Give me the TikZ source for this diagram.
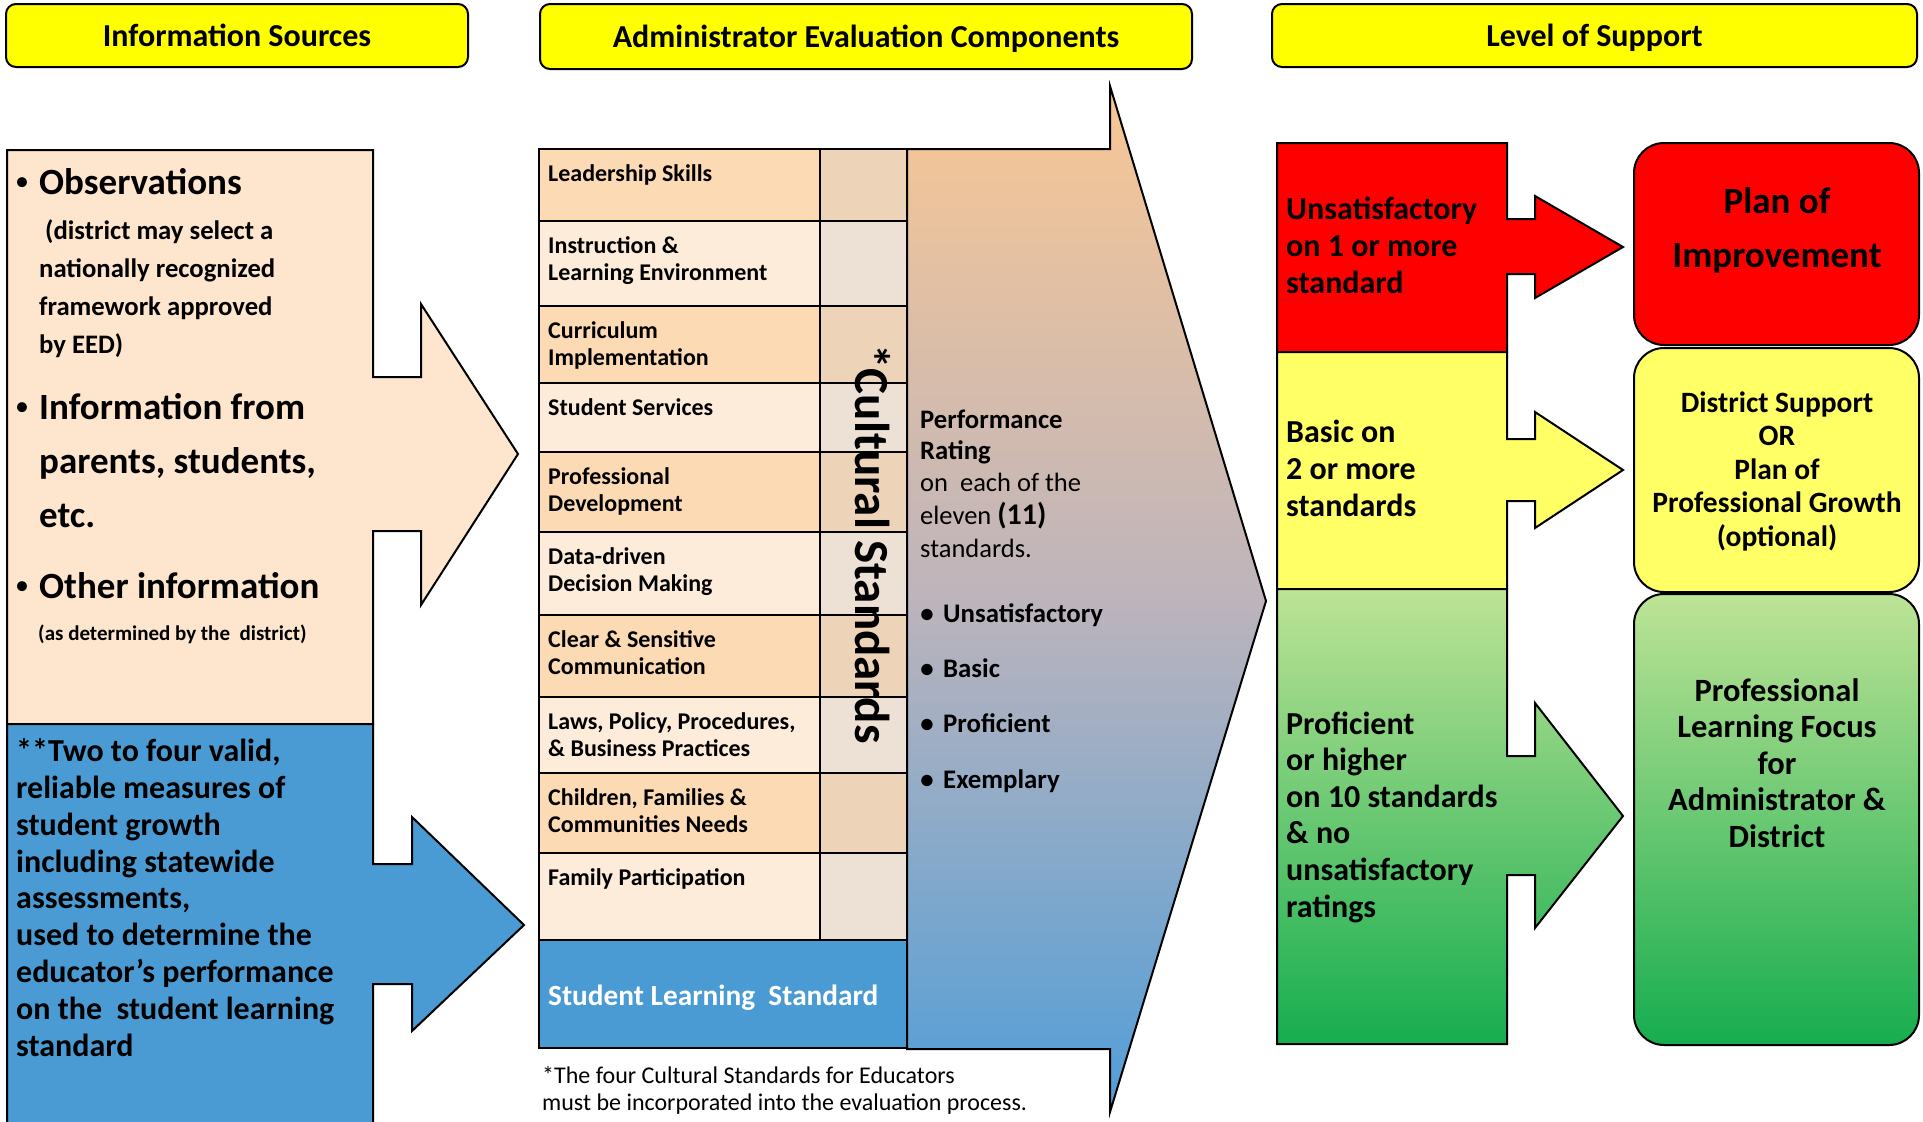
\documentclass[tikz,border=0pt]{standalone}
\usepackage{fontspec}
\setmainfont{Carlito}
\definecolor{hdryellow}{HTML}{FFFF00}
\definecolor{srcpeach}{HTML}{FDE6CD}
\definecolor{srcblue}{HTML}{4A9BD3}
\definecolor{rowdark}{HTML}{FCDAB4}
\definecolor{rowlight}{HTML}{FDECDA}
\definecolor{culdark}{HTML}{EDD4B9}
\definecolor{cullight}{HTML}{EDE1D5}
\definecolor{arrtop}{HTML}{F9C794}
\definecolor{arrmid}{HTML}{BDB4BC}
\definecolor{arrbot}{HTML}{509ED8}
\definecolor{lvlred}{HTML}{FF0000}
\definecolor{lvlyellow}{HTML}{FFFF66}
\definecolor{grntop}{HTML}{BEE396}
\definecolor{grnbot}{HTML}{16AD4F}
\newcommand\fsz[2]{\fontsize{#1}{#2}\selectfont}
\tikzset{
  hdrbox/.style={draw, line width=2pt, fill=hdryellow, rounded corners=10pt,
    font=\bfseries\fsz{32}{38}, text height=24pt, text depth=2pt},
  edge/.style={draw, line width=2pt},
  tbl/.style={draw, line width=2.5pt},
  srctext/.style={anchor=base west, inner sep=0pt, align=left},
  rowtext/.style={anchor=base west, inner sep=0pt, align=left, font=\bfseries\fsz{24}{27}},
  lvltext/.style={anchor=base west, inner sep=0pt, align=left, font=\bfseries\fsz{32}{36.6}},
  suptext/.style={anchor=base, inner sep=0pt, align=center},
  dot/.style={anchor=base, inner sep=0pt}
}
\begin{document}
\begin{tikzpicture}[x=1pt,y=-1pt]
  \useasboundingbox (0,0) rectangle (1923,1122);
  \clip (0,0) rectangle (1923,1122);

  % column headers
  \node[hdrbox, minimum width=462pt, minimum height=63pt] (hsrc) at (237,35.5) {Information Sources};
  \node[hdrbox, minimum width=652pt, minimum height=65pt] (hcomp) at (866,36.5) {Administrator Evaluation Components};
  \node[hdrbox, minimum width=645pt, minimum height=63pt] (hlvl) at (1594.5,35.5) {Level of Support};

  % information sources (multi-line texts sit on their last baseline)
  \draw[edge, fill=srcpeach] (7,150) -- (373,150) -- (373,377) -- (421,377) -- (421,304)
    -- (518,454) -- (421,605) -- (421,531) -- (373,531) -- (373,724) -- (7,724) -- cycle;
  \draw[edge, fill=srcblue] (7,724) -- (373,724) -- (373,864) -- (412,864) -- (412,817)
    -- (524,925) -- (412,1031) -- (412,984) -- (373,984) -- (373,1140) -- (7,1140) -- cycle;

  \node[dot, font=\fsz{28}{30}] (b1) at (22,190) {\textbullet};
  \node[srctext, font=\bfseries\fsz{37}{54}] (obs) at (39,194) {Observations};
  \node[srctext, font=\bfseries\fsz{26.7}{37.7}] (obsnote) at (39,353)
    {\hspace{6pt}(district may select a\\nationally recognized\\framework approved\\by EED)};
  \node[dot, font=\fsz{28}{30}] (b2) at (22,415) {\textbullet};
  \node[srctext, font=\bfseries\fsz{37}{54}] (par) at (39,527) {Information from\\parents, students,\\etc.};
  \node[dot, font=\fsz{28}{30}] (b3) at (22,594) {\textbullet};
  \node[srctext, font=\bfseries\fsz{37}{54}] (oth) at (39,598) {Other information};
  \node[srctext, font=\bfseries\fsz{21}{24}] (othnote) at (38,640) {(as determined by the\ \ district)};
  \node[srctext, font=\bfseries\fsz{32}{36.8}] (growth) at (16,1056)
    {**Two to four valid,\\reliable measures of\\student growth\\including statewide\\assessments,\\used to determine the\\educator’s performance\\on the\ \ student learning\\standard};

  % evaluation components
  \shade[edge, top color=arrtop, bottom color=arrbot, middle color=arrmid]
    (907,149) -- (1110,149) -- (1110,86) -- (1266,601) -- (1110,1112) -- (1110,1049) -- (907,1049) -- cycle;
  \foreach \ya/\yb/\rf/\cf/\nl/\txt [count=\i] in {
      149/221/rowdark/culdark/0/{Leadership Skills},
      221/306/rowlight/cullight/1/{Instruction \&\\Learning Environment},
      306/383/rowdark/culdark/1/{Curriculum\\Implementation},
      383/452/rowlight/cullight/0/{Student Services},
      452/532/rowdark/culdark/1/{Professional\\Development},
      532/615/rowlight/cullight/1/{Data-driven\\Decision Making},
      615/697/rowdark/culdark/1/{Clear \& Sensitive\\Communication},
      697/773/rowlight/cullight/1/{Laws, Policy, Procedures,\\\& Business Practices},
      773/853/rowdark/culdark/1/{Children, Families \&\\Communities Needs},
      853/940/rowlight/cullight/0/{Family Participation}}
  {
    \draw[tbl, fill=\rf] (539,\ya) rectangle (820,\yb);
    \draw[tbl, fill=\cf] (820,\ya) rectangle (907,\yb);
    \node[rowtext] (std\i) at (548,\ya+32+27*\nl) {\txt};
  }
  \draw[tbl, fill=srcblue] (539,940) rectangle (907,1048);
  \node[srctext, text=white, font=\bfseries\fsz{29.3}{30}] (sls) at (548,1005) {Student Learning\ \ Standard};
  \node[rotate=-90, anchor=base, inner sep=0pt, font=\bfseries\fsz{49}{50}] (cult) at (855,544) {*Cultural Standards};

  \node[srctext, font=\bfseries\fsz{26.7}{31}] (perf) at (920,459) {Performance\\Rating};
  \node[srctext, font=\fsz{26.5}{33}] (each) at (920,557) {on\ \ each of the\\eleven {\bfseries\fsz{30}{33}(11)}\\standards.};
  \foreach \y/\r [count=\i] in {622/Unsatisfactory,677/Basic,732/Proficient,788/Exemplary}
  {
    \node[dot, font=\bfseries\fsz{26.8}{30}] (rb\i) at (927,\y) {\textbullet};
    \node[srctext, font=\bfseries\fsz{26.8}{30}] (rt\i) at (943,\y) {\r};
  }
  \node[srctext, font=\fsz{24}{27}] (foot) at (542,1110)
    {*The four Cultural Standards for Educators\\must be incorporated into the evaluation process.};

  % level of support
  \draw[edge, fill=lvlred] (1277,143) -- (1507,143) -- (1507,219) -- (1535,219) -- (1535,196)
    -- (1623,247) -- (1535,298) -- (1535,274) -- (1507,274) -- (1507,352) -- (1277,352) -- cycle;
  \draw[edge, fill=lvlyellow] (1277,352) -- (1507,352) -- (1507,439) -- (1535,439) -- (1535,412)
    -- (1623,470) -- (1535,528) -- (1535,501) -- (1507,501) -- (1507,589) -- (1277,589) -- cycle;
  \shade[edge, top color=grntop, bottom color=grnbot] (1277,589) -- (1507,589) -- (1507,756) -- (1535,756) -- (1535,703)
    -- (1623,816) -- (1535,928) -- (1535,875) -- (1507,875) -- (1507,1044) -- (1277,1044) -- cycle;
  \node[lvltext] (unsat) at (1286,293) {Unsatisfactory\\on 1 or more\\standard};
  \node[lvltext] (basic) at (1286,516) {Basic on\\2 or more\\standards};
  \node[lvltext] (prof) at (1286,917) {Proficient\\or higher\\on 10 standards\\\& no\\unsatisfactory\\ratings};

  \draw[edge, fill=lvlred, rounded corners=30pt] (1634,143) rectangle (1919,345);
  \draw[edge, fill=lvlyellow, rounded corners=30pt] (1634,348) rectangle (1919,592);
  \shade[edge, top color=grntop, bottom color=grnbot, rounded corners=30pt] (1634,594) rectangle (1919,1045);
  \node[suptext, font=\bfseries\fsz{37}{54}] (plan) at (1777,267) {Plan of\\Improvement};
  \node[suptext, font=\bfseries\fsz{29.5}{33.5}] (dsup) at (1777,546)
    {District Support\\OR\\Plan of\\Professional Growth\\(optional)};
  \node[suptext, font=\bfseries\fsz{32.5}{36.5}] (plf) at (1777,847)
    {Professional\\Learning Focus\\for\\Administrator \&\\District};
\end{tikzpicture}
\end{document}
